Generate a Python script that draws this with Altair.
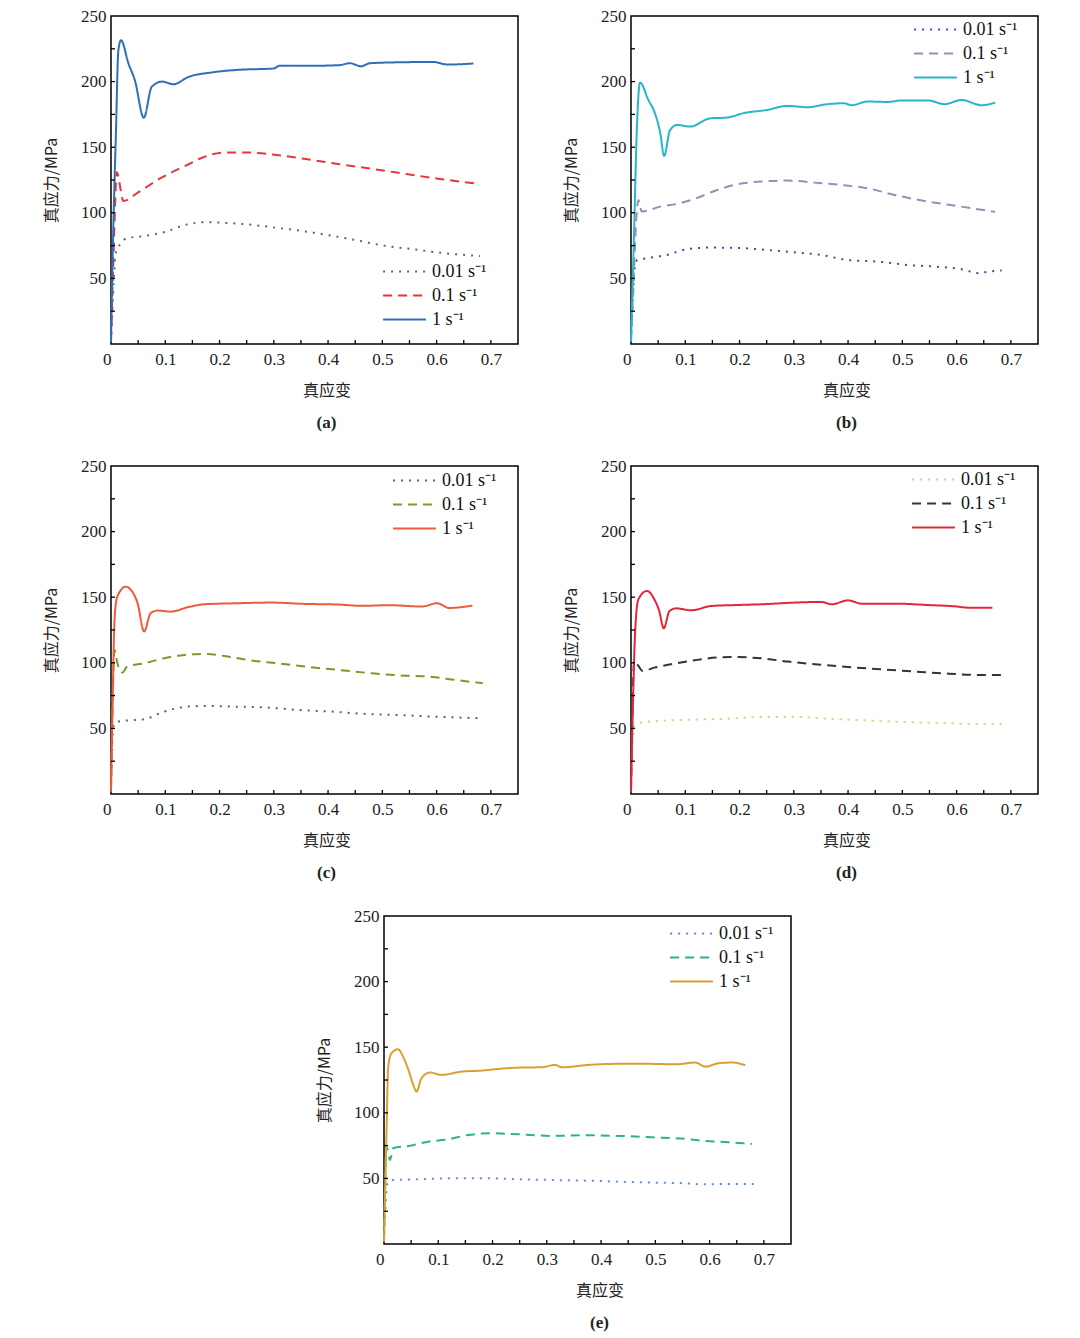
import altair as alt
import pandas as pd

RATES = ["0.01 s⁻¹", "0.1 s⁻¹", "1 s⁻¹"]

# ---------------- panel (a) ----------------
a_001_x = [0.0, 0.002, 0.006, 0.009, 0.017, 0.029, 0.063, 0.10, 0.137, 0.174, 0.211, 0.26, 0.31, 0.359, 0.409, 0.458, 0.507, 0.557, 0.606, 0.68]
a_001_y = [2, 20, 55, 69.6, 76, 80.6, 82.4, 85.5, 90.8, 92.9, 92.3, 90.8, 88.3, 85.7, 82.4, 78.6, 74.7, 72.2, 69.6, 67]
a_01_x = [0.0, 0.004, 0.0074, 0.0105, 0.023, 0.05, 0.094, 0.143, 0.168, 0.211, 0.248, 0.298, 0.359, 0.421, 0.483, 0.544, 0.606, 0.68]
a_01_y = [2, 58, 104, 131, 109, 115.6, 127, 137, 142, 146, 146, 144.4, 141, 137, 133.4, 129.6, 125.8, 122]
a_1_x = [0.0, 0.004, 0.009, 0.0136, 0.0185, 0.032, 0.044, 0.0605, 0.075, 0.094, 0.115, 0.143, 0.186, 0.236, 0.30, 0.31, 0.36, 0.42, 0.44, 0.461, 0.477, 0.544, 0.594, 0.62, 0.668]
a_1_y = [2, 84, 160, 224, 231.6, 214, 201, 172.5, 196, 200, 198, 203.6, 207, 209, 210, 212, 212, 212.5, 214, 211.7, 214, 214.8, 215, 213, 213.8]

# ---------------- panel (b) ----------------
b_001_x = [0.0, 0.003, 0.007, 0.0117, 0.029, 0.066, 0.103, 0.146, 0.196, 0.251, 0.30, 0.35, 0.40, 0.455, 0.51, 0.56, 0.609, 0.64, 0.659, 0.683]
b_001_y = [2, 30, 59, 64, 65.3, 67.9, 72.2, 73.5, 73.2, 71.7, 69.9, 67.9, 64, 62.8, 60.2, 59, 57, 54, 55.2, 56]
b_01_x = [0.0, 0.005, 0.009, 0.0136, 0.0198, 0.054, 0.085, 0.115, 0.159, 0.196, 0.239, 0.288, 0.338, 0.393, 0.436, 0.486, 0.548, 0.609, 0.671]
b_01_y = [2, 50, 90, 109.8, 101, 104.7, 106.8, 110.3, 117.4, 121.8, 123.8, 124.6, 123, 121, 118.7, 113.6, 108.5, 104.7, 100.7]
b_1_x = [0.0, 0.0056, 0.0105, 0.0167, 0.032, 0.044, 0.054, 0.061, 0.072, 0.085, 0.109, 0.146, 0.177, 0.208, 0.251, 0.288, 0.325, 0.362, 0.393, 0.406, 0.436, 0.473, 0.498, 0.548, 0.578, 0.609, 0.646, 0.671]
b_1_y = [2, 84, 160.6, 199.3, 186, 176, 160.6, 143.4, 163, 167, 165.7, 172, 172.6, 176, 178.4, 181.5, 180.5, 182.8, 183.5, 182, 184.8, 184.5, 185.6, 185.6, 182.8, 186, 182, 184]

# ---------------- panel (c) ----------------
c_001_x = [0.0, 0.0043, 0.0117, 0.0426, 0.061, 0.098, 0.141, 0.172, 0.222, 0.283, 0.345, 0.407, 0.469, 0.53, 0.592, 0.685]
c_001_y = [2, 51.3, 55.2, 56.4, 57, 62.8, 66.6, 67.1, 66.6, 66, 64, 62.8, 61, 60.2, 59, 57.7]
c_01_x = [0.0, 0.0068, 0.0117, 0.021, 0.03, 0.061, 0.098, 0.135, 0.172, 0.209, 0.259, 0.308, 0.357, 0.419, 0.481, 0.543, 0.586, 0.635, 0.685]
c_01_y = [2, 109.8, 99.6, 92.5, 97.1, 99.6, 103.5, 106, 106.8, 105.2, 101.7, 99.6, 97.1, 94.6, 92, 90.2, 89.5, 86.9, 84.4]
c_1_x = [0.0, 0.0025, 0.0068, 0.0117, 0.027, 0.0395, 0.049, 0.061, 0.073, 0.086, 0.11, 0.141, 0.172, 0.234, 0.296, 0.357, 0.419, 0.462, 0.512, 0.573, 0.601, 0.623, 0.666]
c_1_y = [2, 59, 135, 150.5, 158, 154, 145.4, 123.8, 137.8, 139.8, 139, 142.3, 144.6, 145.4, 145.9, 144.9, 144.4, 143.4, 143.9, 142.9, 145.4, 141.8, 143.6]

# ---------------- panel (d) ----------------
d_001_x = [0.0, 0.006, 0.018, 0.055, 0.117, 0.179, 0.24, 0.302, 0.364, 0.425, 0.487, 0.549, 0.61, 0.69]
d_001_y = [2, 51.8, 54.4, 55.7, 56.7, 57.4, 58.7, 58.7, 57.4, 56.2, 55.1, 54.4, 53.6, 53.1]
d_01_x = [0.0, 0.006, 0.0136, 0.0216, 0.043, 0.074, 0.117, 0.16, 0.197, 0.24, 0.29, 0.339, 0.40, 0.462, 0.524, 0.586, 0.641, 0.69]
d_01_y = [2, 101.4, 97.6, 93.8, 96.3, 98.9, 101.9, 104, 104.4, 103.4, 100.9, 98.9, 96.8, 95, 93.3, 91.7, 90.7, 90.7]
d_1_x = [0.0, 0.003, 0.0074, 0.0136, 0.0296, 0.043, 0.052, 0.0604, 0.071, 0.083, 0.111, 0.148, 0.191, 0.24, 0.302, 0.351, 0.37, 0.40, 0.425, 0.487, 0.549, 0.598, 0.623, 0.666]
d_1_y = [2, 58, 121.7, 148.4, 154.8, 148.4, 139.5, 126.3, 139.5, 141.5, 140, 143.3, 144, 144.6, 145.9, 146.4, 144.6, 147.6, 145.1, 145.1, 144, 143, 142, 142]

# ---------------- panel (e) ----------------
e_001_x = [0.0, 0.0065, 0.0138, 0.063, 0.125, 0.186, 0.248, 0.309, 0.371, 0.432, 0.494, 0.555, 0.586, 0.648, 0.691]
e_001_y = [2, 46.3, 48.8, 49.3, 50.1, 50.1, 49.3, 48.8, 48.3, 47.5, 46.8, 46.3, 45.5, 45.8, 45.8]
e_01_x = [0.0, 0.0046, 0.011, 0.017, 0.045, 0.082, 0.118, 0.155, 0.198, 0.248, 0.309, 0.371, 0.432, 0.494, 0.555, 0.586, 0.635, 0.678]
e_01_y = [2, 74.2, 64, 73, 74.7, 78, 79.8, 83.1, 84.4, 83.6, 82.4, 82.9, 82.4, 81.3, 80.1, 78.8, 77.5, 76.3]
e_1_x = [0.0, 0.0046, 0.0077, 0.0138, 0.026, 0.035, 0.045, 0.054, 0.06, 0.069, 0.085, 0.106, 0.143, 0.18, 0.217, 0.254, 0.291, 0.315, 0.328, 0.377, 0.426, 0.488, 0.537, 0.574, 0.592, 0.617, 0.642, 0.666]
e_1_y = [2, 84.4, 135, 145.4, 148.4, 142.9, 132.7, 121.3, 116.2, 126.3, 130.7, 128.9, 131.4, 132.2, 133.7, 134.5, 134.7, 136.5, 134.7, 136.5, 137.3, 137.3, 137, 138.3, 135.2, 137.8, 138.3, 136.2]

X_TICKS = [0, 0.1, 0.2, 0.3, 0.4, 0.5, 0.6, 0.7]
X_MINOR = [0.05, 0.1, 0.15, 0.2, 0.25, 0.3, 0.35, 0.4, 0.45, 0.5, 0.55, 0.6, 0.65, 0.7]
Y_TICKS = [50, 100, 150, 200, 250]
Y_MINOR = [25, 50, 75, 100, 125, 150, 175, 200, 225]

W, H = 407, 328
SERIF = "Liberation Serif, Noto Sans CJK SC"
CJK = "Noto Sans CJK SC"


def panel(xs, ys, colors, caption, lx, ly):
    rows = []
    for rate, sx, sy in zip(RATES, xs, ys):
        for a, b in zip(sx, sy):
            rows.append({"strain": a, "stress": b, "rate": rate})
    df = pd.DataFrame(rows)
    leg = alt.Legend(title=None, orient="none", legendX=lx, legendY=ly,
                     symbolType="M-1.63,0H1.63", symbolSize=690, symbolStrokeWidth=2,
                     labelFont=SERIF, labelFontSize=18, labelColor="#111",
                     rowPadding=0, padding=0, labelOffset=13)
    xax = alt.Axis(values=X_TICKS, format="~g", title="真应变", titleFont=CJK,
                   titleFontSize=16, titleFontWeight="normal", titleColor="#222",
                   titlePadding=15, titleX=W / 2 + 12, grid=False, ticks=False,
                   domain=False, labelPadding=7, labelFont=SERIF, labelFontSize=17,
                   labelColor="#222",
                   labelAlign={"condition": {"test": "datum.value === 0", "value": "right"}, "value": "center"})
    yax = alt.Axis(values=Y_TICKS, title="真应力/MPa", titleFont=CJK,
                   titleFontSize=16, titleFontWeight="normal", titleColor="#222",
                   titlePadding=21, grid=False, ticks=False, domain=False, labelPadding=5,
                   labelFont=SERIF, labelFontSize=17, labelColor="#222")
    lines = alt.Chart(df).mark_line(strokeWidth=2, interpolate="monotone").encode(
        x=alt.X("strain:Q", scale=alt.Scale(domain=[0, 0.75], nice=False, zero=False), axis=xax),
        y=alt.Y("stress:Q", scale=alt.Scale(domain=[0, 250], nice=False), axis=yax),
        color=alt.Color("rate:N", scale=alt.Scale(domain=RATES, range=colors), legend=leg),
        strokeDash=alt.StrokeDash("rate:N", scale=alt.Scale(domain=RATES, range=[[2, 6], [9, 6], [1, 0]]), legend=leg),
        order=alt.Order("strain:Q"),
    )
    xt = alt.Chart(pd.DataFrame({"strain": X_MINOR})).mark_rule(color="black", strokeWidth=1.3).encode(
        x="strain:Q", y=alt.value(H), y2=alt.value(H - 4))
    yt = alt.Chart(pd.DataFrame({"stress": Y_MINOR})).mark_rule(color="black", strokeWidth=1.3).encode(
        y="stress:Q", x=alt.value(0), x2=alt.value(4))
    return alt.layer(lines, xt, yt).properties(
        width=W, height=H,
        title=alt.TitleParams(caption, orient="bottom", font=SERIF, fontSize=17,
                              fontWeight="bold", color="#222", offset=17, dx=12))


pa = panel([a_001_x, a_01_x, a_1_x], [a_001_y, a_01_y, a_1_y], ["#666666", "#e8343c", "#2e6fb8"], "(a)", 279, 241)
pb = panel([b_001_x, b_01_x, b_1_x], [b_001_y, b_01_y, b_1_y], ["#4b4a9a", "#a08ab8", "#27b5c9"], "(b)", 290, -1)
pc = panel([c_001_x, c_01_x, c_1_x], [c_001_y, c_01_y, c_1_y], ["#6a5c6c", "#789a2a", "#ee5a3a"], "(c)", 289, 0)
pd_ = panel([d_001_x, d_01_x, d_1_x], [d_001_y, d_01_y, d_1_y], ["#c2d884", "#2e3440", "#e0283c"], "(d)", 288, -1)
pe = panel([e_001_x, e_01_x, e_1_x], [e_001_y, e_01_y, e_1_y], ["#5a8ae0", "#2db38a", "#d8a030"], "(e)", 293, 3)

spacer = alt.Chart(pd.DataFrame({"v": [0]})).mark_point(opacity=0).encode(
    x=alt.value(0), y=alt.value(0)).properties(width=183, height=10, view=alt.ViewBackground(stroke="transparent"))

IND = dict(color="independent", strokeDash="independent")
row1 = alt.hconcat(pa, pb, spacing=43).resolve_scale(**IND)
row2 = alt.hconcat(pc, pd_, spacing=43).resolve_scale(**IND)
row3 = alt.hconcat(spacer, pe, spacing=20).resolve_scale(**IND)

chart = alt.vconcat(row1, row2, row3, spacing=24).resolve_scale(**IND).properties(
    padding={"left": 34, "top": -2, "right": 5, "bottom": 5}, background="white"
).configure_view(stroke="black", strokeWidth=1.5)

chart.save("out.html", embed_options={"renderer": "svg", "actions": False})
